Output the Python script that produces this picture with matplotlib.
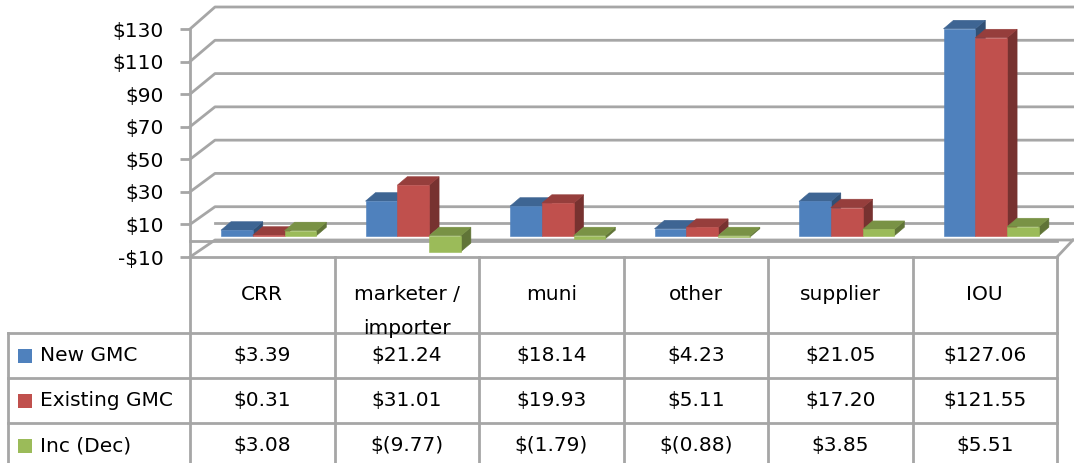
import numpy as np
import matplotlib.pyplot as plt
from matplotlib.patches import Polygon, Rectangle
from matplotlib.colors import to_rgb

categories = ['CRR', 'marketer /\nimporter', 'muni', 'other', 'supplier', 'IOU']
series = ['New GMC', 'Existing GMC', 'Inc (Dec)']
new_gmc = [3.39, 21.24, 18.14, 4.23, 21.05, 127.06]
existing_gmc = [0.31, 31.01, 19.93, 5.11, 17.20, 121.55]
inc_dec = [3.08, -9.77, -1.79, -0.88, 3.85, 5.51]
yticks = [-10, 10, 30, 50, 70, 90, 110, 130]
ytick_labels = ['-$10', '$10', '$30', '$50', '$70', '$90', '$110', '$130']
colors = ['#4F81BD', '#C0504D', '#9BBB59']

plt.rcParams['font.family'] = 'DejaVu Sans'
FS = 14.5
grid = '#a6a6a6'

W, H = 1074, 463
fig = plt.figure(figsize=(W / 100, H / 100), dpi=100)
L, R, T, B = 190, 1057, 29, 257
n = len(categories)
ax = fig.add_axes([L / W, 1 - B / H, (R - L) / W, (B - T) / H])
ax.set_xlim(0, n)
ax.set_ylim(-10, 130)
ax.patch.set_alpha(0)

ux = n / (R - L)
uy = 140 / (B - T)


def wall(x, v, d):
    # push a point back towards the back wall (d=0 front, d=1 back)
    ox = (25 - 9 * x / n) * d
    oy = (17 + 5 * (v + 10) / 140) * d
    return x + ox * ux, v + oy * uy


# bars sit a bit behind the front plane, with a short depth
sx, sy = 5, 5
bdx, bdy = 10, 8.5


def bar_pt(x, v, back):
    return x + (sx + bdx * back) * ux, v + (sy + bdy * back) * uy


def shade(c, f):
    return tuple(np.array(to_rgb(c)) * f)


# walls / gridlines
for v in yticks:
    pts = [wall(0, v, 0), wall(0, v, 1), wall(n + 0.3, v, 1)]
    ax.plot(*zip(*pts), color=grid, lw=2, clip_on=False, zorder=1)
pts = [wall(0, 0, 1), wall(n + 0.3, 0, 1)]
ax.plot(*zip(*pts), color=grid, lw=2, clip_on=False, zorder=1)
pts = [wall(0, 0, 0), wall(n, 0, 0)]
ax.plot(*zip(*pts), color=grid, lw=2, clip_on=False, zorder=1)
pts = [wall(n, -10, 0), wall(n, -10, 1)]
ax.plot(*zip(*pts), color=grid, lw=2, clip_on=False, zorder=1)

# bars
bw, off = 0.22, 0.18
for i in range(n):
    for j, vals in enumerate([new_gmc, existing_gmc, inc_dec]):
        v = vals[i]
        lo, hi = min(0, v), max(0, v)
        x0 = i + off + j * bw
        x1 = x0 + bw
        c = colors[j]
        faces = [
            ([bar_pt(x1, lo, 0), bar_pt(x1, hi, 0), bar_pt(x1, hi, 1), bar_pt(x1, lo, 1)], shade(c, 0.62)),
            ([bar_pt(x0, hi, 0), bar_pt(x1, hi, 0), bar_pt(x1, hi, 1), bar_pt(x0, hi, 1)], shade(c, 0.78)),
            ([bar_pt(x0, lo, 0), bar_pt(x1, lo, 0), bar_pt(x1, hi, 0), bar_pt(x0, hi, 0)], c),
        ]
        for poly, fc in faces:
            ax.add_patch(Polygon(poly, closed=True, facecolor=fc, edgecolor=fc,
                                 lw=0.4, zorder=3, clip_on=False))

ax.set_xticks([])
ax.set_yticks(yticks)
ax.set_yticklabels(ytick_labels, fontsize=FS)
ax.tick_params(axis='y', length=7, width=2, color=grid, pad=12)
for s in ['top', 'right', 'bottom']:
    ax.spines[s].set_visible(False)
ax.spines['left'].set_color(grid)
ax.spines['left'].set_linewidth(2)

# data table
tab = fig.add_axes([0, 0, 1, 1])
tab.set_xlim(0, W)
tab.set_ylim(H, 0)
tab.axis('off')
cols = [L + (R - L) * k / n for k in range(n + 1)]
rows = [B, 333, 378, 423, 468]
for k, cx in enumerate(cols):
    tab.plot([cx, cx], [B, H + 5], color=grid, lw=2, clip_on=False)
tab.plot([8, 8], [rows[1], H + 5], color=grid, lw=2, clip_on=False)
tab.plot([L, R], [B, B], color=grid, lw=2)
for ry in rows[1:4]:
    tab.plot([8, R], [ry, ry], color=grid, lw=2)

for k, name in enumerate(categories):
    cx = (cols[k] + cols[k + 1]) / 2
    for m, line in enumerate(name.split('\n')):
        tab.text(cx, 295 + 33 * m, line, ha='center', va='center', fontsize=FS)


def fmt(v):
    return '$%.2f' % v if v >= 0 else '$(%.2f)' % -v


for j, vals in enumerate([new_gmc, existing_gmc, inc_dec]):
    ry = (rows[j + 1] + rows[j + 2]) / 2
    tab.add_patch(Rectangle((18, ry - 7), 14, 14, facecolor=colors[j], edgecolor='none'))
    tab.text(40, ry, series[j], ha='left', va='center', fontsize=FS)
    for k in range(n):
        cx = (cols[k] + cols[k + 1]) / 2
        tab.text(cx, ry, fmt(vals[k]), ha='center', va='center', fontsize=FS)

fig.savefig('out.png', dpi=100)
